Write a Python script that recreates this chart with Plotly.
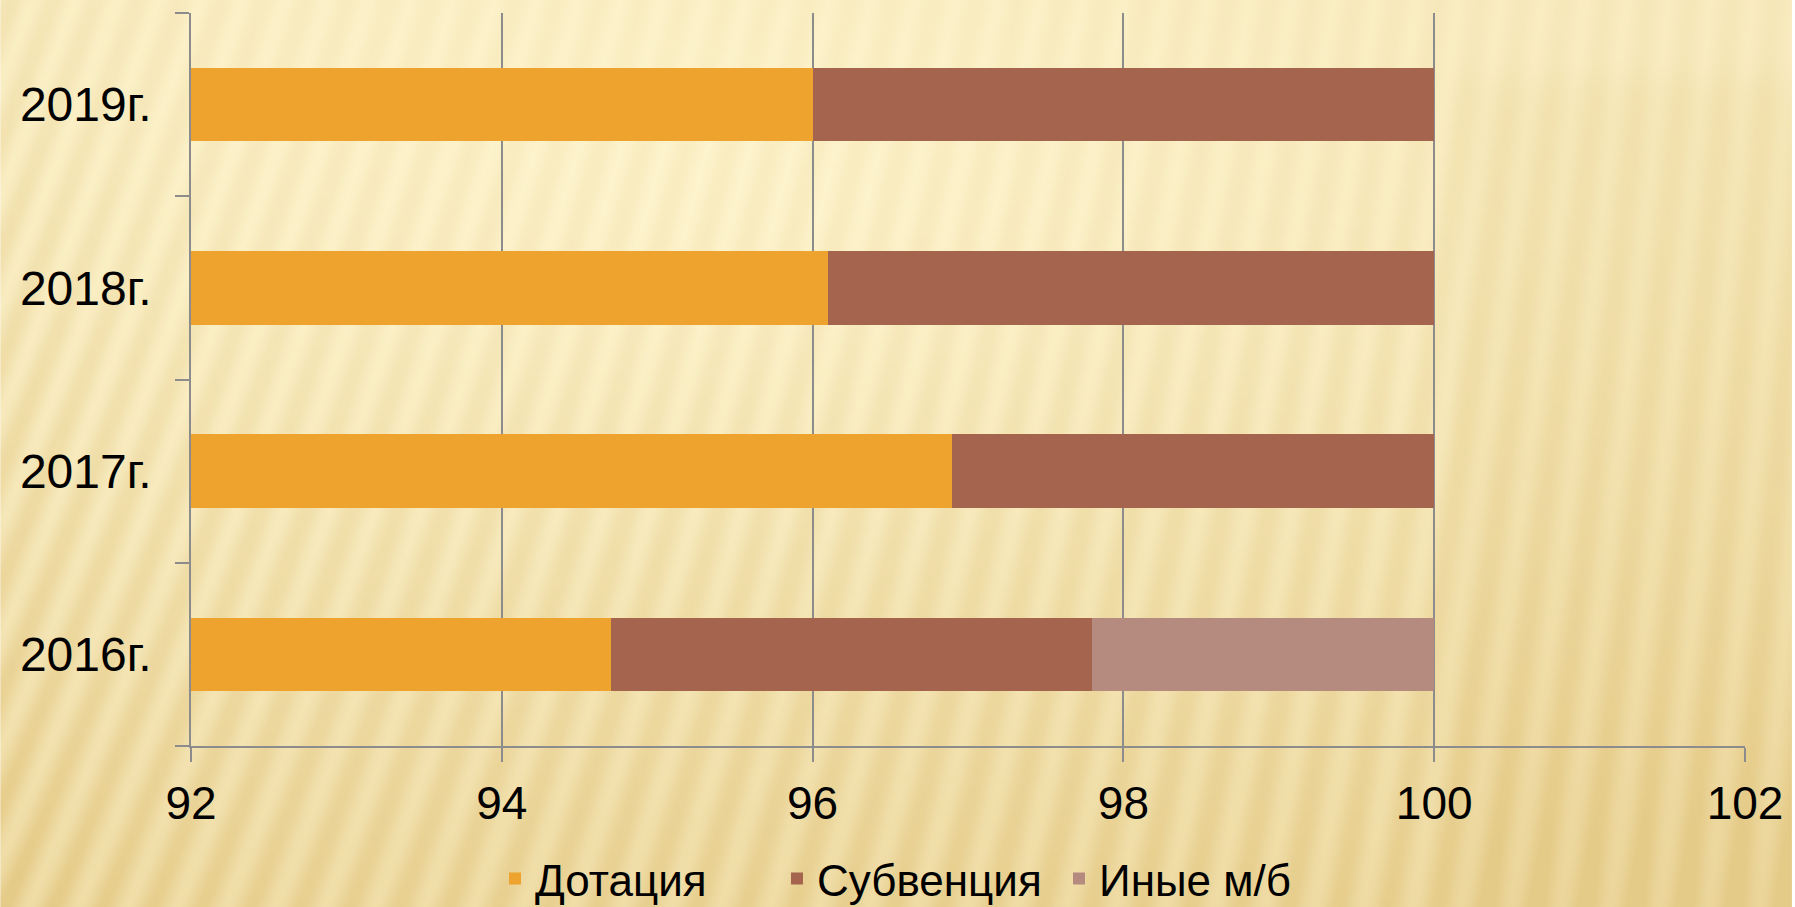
import base64
import zlib
import struct
import numpy as np
import plotly.graph_objects as go

# ---------------- data ----------------
years = ["2016г.", "2017г.", "2018г.", "2019г."]
dotacia = [94.7, 96.9, 96.1, 96.0]
subvencia = [3.1, 3.1, 3.9, 4.0]
inye = [2.2, 0.0, 0.0, 0.0]
series_names = ["Дотация", "Субвенция", "Иные м/б"]
x_ticks = [92, 94, 96, 98, 100, 102]

# ---------------- layout constants ----------------
W, H = 1795, 907
ML, MR, MT, MB = 191, 47, 13, 161
colors = ["#EEA32F", "#A5644E", "#B58A7F"]
FONT = "Liberation Sans, Arial, sans-serif"


def make_background(w, h):
    yy, xx = np.mgrid[0:h, 0:w].astype(np.float64)
    xn = xx / w
    yn = yy / h
    t = 0.12 + 0.55 * yn ** 1.6 + 0.12 * xn
    t += 0.14 * np.exp(-xn / 0.07)
    t -= 0.14 * np.exp(-(((xn - 0.45) / 0.32) ** 2 + ((yn - 0.25) / 0.32) ** 2))
    right = 1.0 / (1.0 + np.exp(-(xn - 0.81) / 0.006)) * 1.0 / (1.0 + np.exp(-(yn - 0.085) / 0.01))
    t += 0.12 * right
    t = np.clip(t, 0, 1)
    a = 0.38 - 0.3 * xn
    phase = 2 * np.pi * (xx + a * yy) / 21.0
    amp = 0.06 + 0.11 * yn + 0.06 * np.exp(-xn / 0.1)
    t = np.clip(t + amp * np.sin(phase), 0, 1)
    light = np.array([253, 243, 204], dtype=np.float64)
    dark = np.array([229, 203, 136], dtype=np.float64)
    img = light[None, None, :] * (1 - t[..., None]) + dark[None, None, :] * t[..., None]
    img = np.clip(img, 0, 255).astype(np.uint8)
    raw = b"".join(b"\x00" + img[r].tobytes() for r in range(h))

    def chunk(tag, data):
        c = struct.pack(">I", len(data)) + tag + data
        return c + struct.pack(">I", zlib.crc32(tag + data) & 0xFFFFFFFF)

    png = b"\x89PNG\r\n\x1a\n"
    png += chunk(b"IHDR", struct.pack(">IIBBBBB", w, h, 8, 2, 0, 0, 0))
    png += chunk(b"IDAT", zlib.compress(raw, 9))
    png += chunk(b"IEND", b"")
    return "data:image/png;base64," + base64.b64encode(png).decode()


bg = make_background(W // 2, H // 2)

fig = go.Figure()
for name, vals, col in zip(series_names, [dotacia, subvencia, inye], colors):
    fig.add_trace(go.Bar(
        y=years, x=vals, name=name, orientation="h",
        marker=dict(color=col, line=dict(width=0)),
    ))

pw = W - ML - MR
ph = H - MT - MB
fig.add_layout_image(dict(
    source=bg, xref="paper", yref="paper",
    x=-ML / pw, y=1 + MT / ph, sizex=W / pw, sizey=H / ph,
    xanchor="left", yanchor="top", sizing="stretch", layer="below",
))

fig.update_layout(
    width=W, height=H,
    margin=dict(l=ML, r=MR, t=MT, b=MB, pad=0),
    barmode="stack", bargap=0.6,
    paper_bgcolor="rgba(0,0,0,0)", plot_bgcolor="rgba(0,0,0,0)",
    font=dict(family=FONT, color="black"),
    showlegend=True,
    legend=dict(
        orientation="h", xref="container", yref="container",
        x=495 / W, xanchor="left", y=1 - 879 / H, yanchor="middle",
        font=dict(size=44, family=FONT, color="black"),
        bgcolor="rgba(0,0,0,0)", traceorder="normal",
        entrywidth=237,
    ),
    xaxis=dict(
        range=[92, 102], tickvals=x_ticks, ticktext=[str(v) for v in x_ticks],
        showgrid=True, gridcolor="#8C8C8C", gridwidth=1.5,
        showline=True, linecolor="#8C8C8C", linewidth=1.5,
        ticks="outside", ticklen=14, tickwidth=1.5, tickcolor="#8C8C8C",
        tickfont=dict(size=46, family=FONT, color="black"),
        ticklabelstandoff=2, zeroline=False, fixedrange=True,
    ),
    yaxis=dict(
        type="category", categoryorder="array", categoryarray=years,
        showgrid=False, showline=True, linecolor="#8C8C8C", linewidth=1.5,
        ticks="outside", ticklen=14, tickwidth=1.5, tickcolor="#8C8C8C",
        tickson="boundaries",
        tickfont=dict(size=48, family=FONT, color="black"),
        ticklabelstandoff=28, fixedrange=True,
    ),
)

fig.write_html(
    "out.html",
    config={"displayModeBar": False},
    post_script="document.body.style.margin='0';document.body.style.overflow='hidden';",
)
